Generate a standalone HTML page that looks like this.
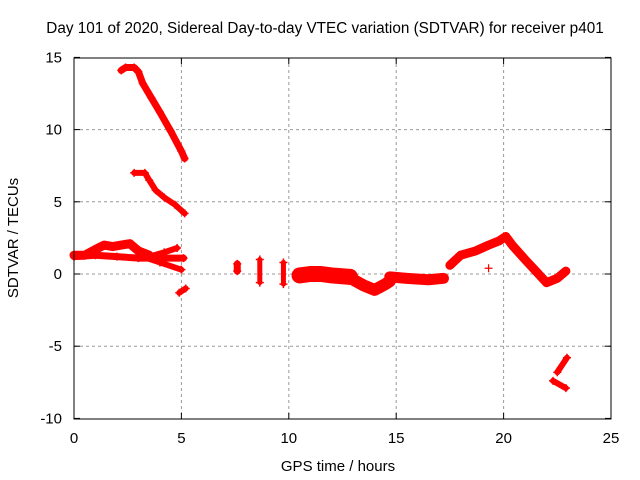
<!DOCTYPE html>
<html><head><meta charset="utf-8"><style>
body{margin:0;background:#fff;}
svg{display:block;font-family:"Liberation Sans",sans-serif;}
</style></head><body>
<svg id="chart" width="640" height="480" viewBox="0 0 640 480">
<text x="325" y="33" text-anchor="middle" font-size="15.3" fill="#000">Day 101 of 2020, Sidereal Day-to-day VTEC variation (SDTVAR) for receiver p401</text>
<g id="grid"></g>
<g id="marks"></g>
<rect x="74" y="58" width="537" height="361" fill="none" stroke="#000" stroke-width="1"/>
<g id="ticks"></g>
<text x="338" y="471" text-anchor="middle" font-size="15">GPS time / hours</text>
<text transform="translate(18,238) rotate(-90)" text-anchor="middle" font-size="15">SDTVAR / TECUs</text>
</svg>
<script>
const xTicks=[0,5,10,15,20,25];
const yTicks=[-10,-5,0,5,10,15];
const trackTop=[[2.2,14.1],[2.4,14.3],[2.8,14.3],[3.0,14.0],[3.2,13.2],[3.6,12.2],[4.0,11.2],[4.5,9.9],[5.0,8.5],[5.15,8.0]];
const trackSecond=[[2.8,7.0],[3.3,7.0],[3.5,6.5],[3.8,5.8],[4.2,5.3],[4.7,4.8],[5.15,4.2]];
const trackBump=[[0,1.3],[0.5,1.3],[1,1.7],[1.4,2.0],[1.8,1.9],[2.2,2.0],[2.6,2.1],[3,1.6],[3.5,1.3]];
const trackFlat=[[0,1.2],[1,1.3],[2,1.2],[3,1.1],[4,1.1],[5.1,1.1]];
const trackRise=[[3.5,1.2],[4.2,1.5],[4.8,1.8]];
const trackFall=[[3,1.3],[4,0.8],[5,0.3]];
const trackBlob5=[[4.9,-1.3],[5.2,-1.0]];
const trackMid1=[[7.6,0.7],[7.6,0.2]];
const trackMid2=[[8.65,1.0],[8.65,-0.6]];
const trackMid3=[[9.75,0.8],[9.75,-0.7]];
const trackMidBig=[[10.5,-0.1],[11.0,0.0],[11.5,0.0],[12.0,-0.1],[12.85,-0.2]];
const trackDip=[[13.0,-0.4],[13.5,-0.8],[14.0,-1.1],[14.5,-0.7],[14.7,-0.5]];
const trackLate=[[14.7,-0.2],[15.5,-0.3],[16.5,-0.4],[17.2,-0.3]];
const trackRight=[[17.5,0.6],[18.0,1.3],[18.7,1.6],[19.3,2.0],[19.8,2.3],[20.1,2.6],[20.4,2.0],[21.0,1.0],[21.5,0.2],[22.0,-0.6],[22.5,-0.3],[22.9,0.2]];
const trackLow1=[[22.5,-6.8],[22.95,-5.8]];
const trackLow2=[[22.3,-7.4],[22.9,-7.9]];
const singlePoints=[[19.3,0.4]];
const tracks=[trackTop,trackSecond,trackBump,trackFlat,trackRise,trackFall,trackBlob5,trackMid1,trackMid2,trackMid3,trackMidBig,trackDip,trackLate,trackRight,trackLow1,trackLow2];
const widths=[7,6,9,7,6,6,6,7,5,5,16,12,11,9,6,6];
const NS="http://www.w3.org/2000/svg";
const X=h=>74+h*21.48, Y=v=>274-v*14.44;
const grid=document.getElementById('grid'), ticks=document.getElementById('ticks'), marks=document.getElementById('marks');
function mk(tag,attrs,parent){const e=document.createElementNS(NS,tag);for(const k in attrs)e.setAttribute(k,attrs[k]);parent.appendChild(e);return e;}
xTicks.forEach(t=>{
  const x=X(t);
  if(t>0&&t<25){const g=mk('line',{x1:x,x2:x,y1:58,y2:419,stroke:'#999','stroke-dasharray':'3,3'},grid);
  
  }
  mk('line',{x1:x,x2:x,y1:419,y2:413,stroke:'#000'},ticks);
  mk('line',{x1:x,x2:x,y1:58,y2:64,stroke:'#000'},ticks);
  const l=mk('text',{x:x,y:443,'text-anchor':'middle','font-size':15},ticks);l.textContent=t;
  
  
});
yTicks.forEach(t=>{
  const y=Y(t);
  if(t>-10&&t<15){const g=mk('line',{x1:74,x2:611,y1:y,y2:y,stroke:'#999','stroke-dasharray':'3,3'},grid);
  
  }
  mk('line',{x1:74,x2:80,y1:y,y2:y,stroke:'#000'},ticks);
  mk('line',{x1:605,x2:611,y1:y,y2:y,stroke:'#000'},ticks);
  const l=mk('text',{x:62,y:y+5,'text-anchor':'end','font-size':15},ticks);l.textContent=t;
  
  
});
tracks.forEach((tr,i)=>{
  const p=mk('polyline',{points:tr.map(d=>X(d[0])+','+Y(d[1])).join(' '),fill:'none',stroke:'#f00','stroke-width':widths[i],'stroke-linejoin':'round','stroke-linecap':'round'},marks);
  
  
  tr.forEach(d=>{
    const m=mk('path',{d:`M${X(d[0])-4},${Y(d[1])}h8M${X(d[0])},${Y(d[1])-4}v8`,stroke:'#f00','stroke-width':1.5},marks);
    
    
  });
});
singlePoints.forEach(d=>{
  const m=mk('path',{d:`M${X(d[0])-4},${Y(d[1])}h8M${X(d[0])},${Y(d[1])-4}v8`,stroke:'#f00','stroke-width':1.2},marks);
  
  
});
</script>
</body></html>
